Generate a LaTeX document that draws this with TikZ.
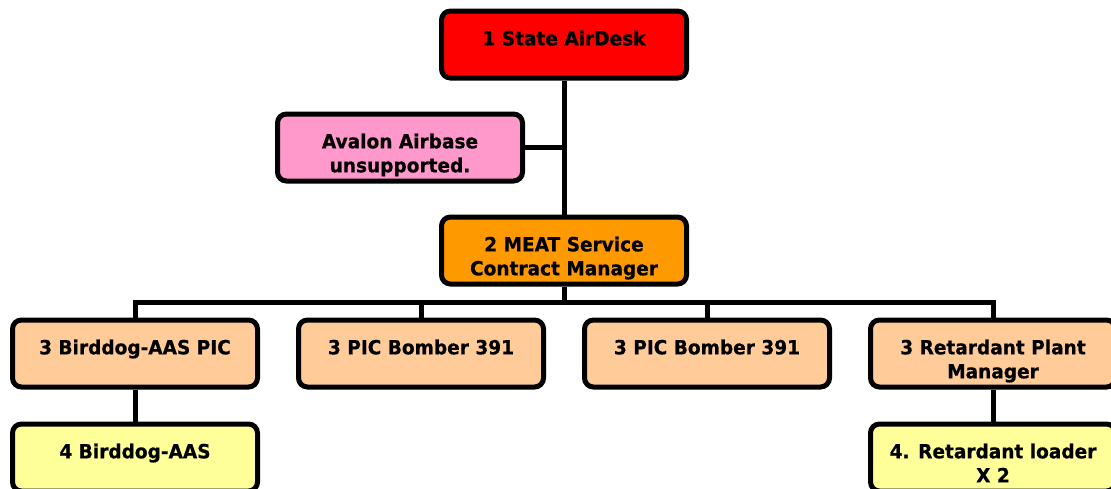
\documentclass[tikz,border=0pt]{standalone}
\usepackage{fontspec}
\setmainfont{DejaVu Sans}[FakeStretch=0.95, BoldFeatures={FakeBold=0.6}]

\definecolor{deskred}{HTML}{FF0000}
\definecolor{basepink}{HTML}{FF99CC}
\definecolor{meatorange}{HTML}{FF9900}
\definecolor{picpeach}{HTML}{FFCC99}
\definecolor{crewyellow}{HTML}{FFFF99}

\tikzstyle{box} = [draw, line width=5pt, rounded corners=9pt, inner sep=0pt, font=\bfseries\fontsize{19.5}{24}\selectfont]
\tikzstyle{line} = [draw, line width=5pt]
\newcommand{\boxtext}[1]{\parbox[t][67pt][t]{245pt}{\centering\vspace*{19.5pt}#1}}

\begin{document}
\begin{tikzpicture}[x=1pt, y=-1pt]
	\useasboundingbox (0,0) rectangle (1111,488);

	% Top
	\node at (564,44.5) [box, fill=deskred] (desk) {\boxtext{1 State AirDesk}};
	\node at (400,147.5) [box, fill=basepink] (avalon) {\boxtext{Avalon Airbase\\unsupported.}};
	\node at (564,250.5) [box, fill=meatorange] (meat) {\boxtext{2 MEAT Service\\Contract Manager}};
	\path[line] (desk.south) -- (meat.north);
	\path[line] (avalon.east) -- (avalon.east -| desk.south);

	% Level 3
	\node at (135,353.5) [box, fill=picpeach] (birddogpic) {\boxtext{3 Birddog-AAS PIC}};
	\node at (421,353.5) [box, fill=picpeach] (bomberA) {\boxtext{3 PIC Bomber 391}};
	\node at (707,353.5) [box, fill=picpeach] (bomberB) {\boxtext{3 PIC Bomber 391}};
	\node at (993,353.5) [box, fill=picpeach] (plant) {\boxtext{3 Retardant Plant\\Manager}};
	\coordinate (bus) at (564,302);
	\path[line] (meat.south) -- (bus);
	\path[line] (birddogpic.north) |- (bus) -| (plant.north);
	\path[line] (bomberA.north) -- (bomberA.north |- bus);
	\path[line] (bomberB.north) -- (bomberB.north |- bus);

	% Level 4
	\node at (135,457.5) [box, fill=crewyellow] (birddog) {\boxtext{4 Birddog-AAS}};
	\node at (993,457.5) [box, fill=crewyellow] (loader) {\boxtext{4. Retardant loader\\X 2}};
	\path[line] (birddogpic.south) -- (birddog.north);
	\path[line] (plant.south) -- (loader.north);

\end{tikzpicture}
\end{document}
